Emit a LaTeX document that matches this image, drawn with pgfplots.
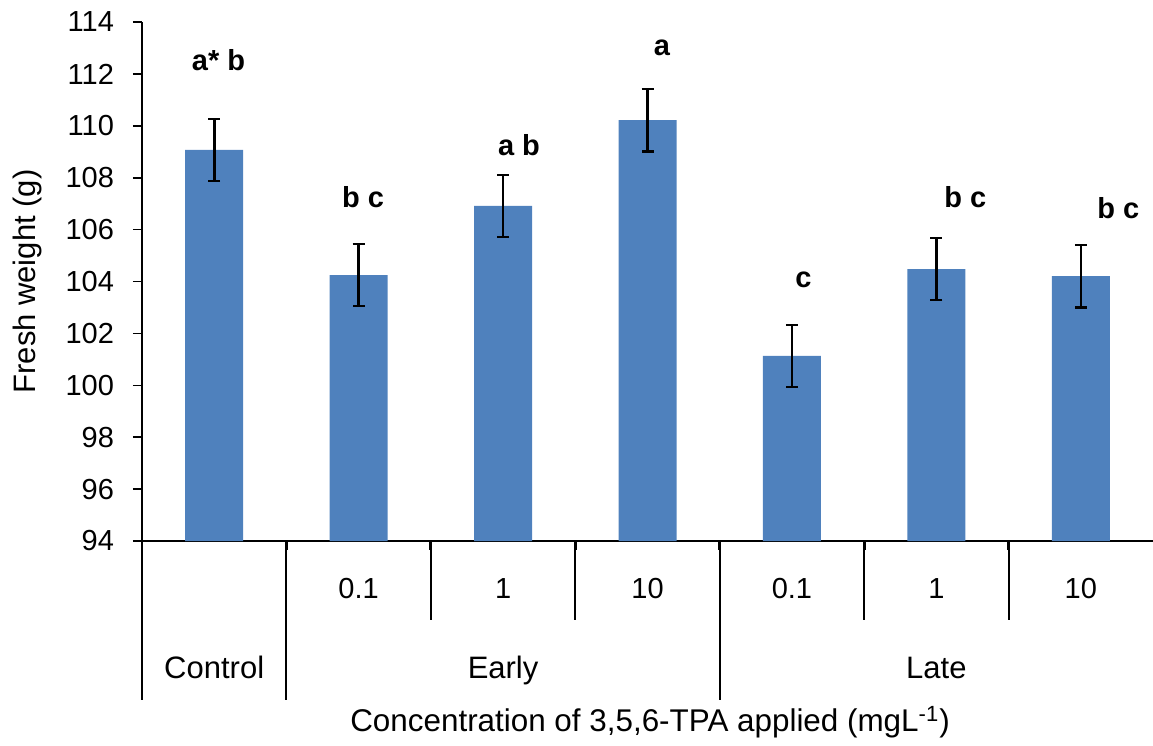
\documentclass[border=0pt]{standalone}
\usepackage{pgfplots}
\pgfplotsset{compat=1.18}
\usepackage{fontspec}
\setmainfont{Liberation Sans}
\definecolor{barblue}{HTML}{4F81BD}
\begin{document}
\begin{tikzpicture}
\begin{axis}[
  name=ax,
  scale only axis, width=505.5pt, height=259.5pt,
  xmin=-0.5, xmax=6.5, ymin=94, ymax=114,
  ytick={94,96,...,114},
  xtick={0,...,6},
  xticklabels={,0.1,1,10,0.1,1,10},
  axis x line*=bottom, axis y line*=left,
  axis line style={line width=1pt, black},
  major x tick style={draw=none},
  ytick align=outside, ytick pos=left,
  major tick length=4.5pt,
  major y tick style={line width=0.8pt, black},
  /pgf/number format/assume math mode=true,
  tick label style={font=\fontsize{14.5}{16}\selectfont},
  yticklabel style={anchor=east, xshift=-6pt},
  xticklabel style={anchor=base, yshift=-24pt},
  ylabel={Fresh weight (g)},
  ylabel style={at={(axis description cs:-0.1128,0.5)}, anchor=center, font=\fontsize{15.5}{18}\selectfont},
  xlabel={Concentration of 3,5,6-TPA applied (mgL\textsuperscript{-1})},
  xlabel style={at={(axis description cs:0.5025,-0.349)}, anchor=center, font=\fontsize{15.7}{18}\selectfont},
  clip=false,
  ybar, bar width=29pt,
]
\addplot[fill=barblue, draw=none,
  error bars/.cd, y dir=both, y explicit,
  error bar style={line width=1.3pt, black},
  error mark options={rotate=90, mark size=3pt, line width=1.3pt, black}]
  coordinates {
    (0,109.07) +- (0,1.2)
    (1,104.25) +- (0,1.2)
    (2,106.91) +- (0,1.2)
    (3,110.22) +- (0,1.2)
    (4,101.13) +- (0,1.2)
    (5,104.48) +- (0,1.2)
    (6,104.21) +- (0,1.2)
  };
% significance letters
\begin{scope}[every node/.style={font=\bfseries\fontsize{14.5}{16}\selectfont, anchor=center}]
\node at (axis cs:0.03,112.54) {a* b};
\node at (axis cs:1.03,107.26) {b c};
\node at (axis cs:2.11,109.26) {a b};
\node at (axis cs:3.10,113.0) {a};
\node at (axis cs:4.08,104.06) {c};
\node at (axis cs:5.20,107.26) {b c};
\node at (axis cs:6.26,106.83) {b c};
\end{scope}
% category separators
\draw[line width=1pt, black] (axis cs:-0.5,94) -- ++(0pt,-79.5pt);
\draw[line width=1pt, black] (axis cs:0.5,94) -- ++(0pt,-79.5pt);
\draw[line width=1pt, black] (axis cs:3.5,94) -- ++(0pt,-79.5pt);
\draw[line width=1pt, black] (axis cs:1.5,94) -- ++(0pt,-39.5pt);
\draw[line width=1pt, black] (axis cs:2.5,94) -- ++(0pt,-39.5pt);
\draw[line width=1pt, black] (axis cs:4.5,94) -- ++(0pt,-39.5pt);
\draw[line width=1pt, black] (axis cs:5.5,94) -- ++(0pt,-39.5pt);
% separator tick marks (slightly heavier at the axis)
\draw[line width=1.4pt, black] (axis cs:-0.5,94) -- ++(0pt,-4.5pt);
\draw[line width=1.4pt, black] (axis cs:0.5,94) -- ++(0pt,-4.5pt);
\draw[line width=1.4pt, black] (axis cs:1.5,94) -- ++(0pt,-4.5pt);
\draw[line width=1.4pt, black] (axis cs:2.5,94) -- ++(0pt,-4.5pt);
\draw[line width=1.4pt, black] (axis cs:3.5,94) -- ++(0pt,-4.5pt);
\draw[line width=1.4pt, black] (axis cs:4.5,94) -- ++(0pt,-4.5pt);
\draw[line width=1.4pt, black] (axis cs:5.5,94) -- ++(0pt,-4.5pt);
% group labels
\begin{scope}[every node/.style={font=\fontsize{15.5}{18}\selectfont, anchor=base}]
\node at ([yshift=-68.5pt]axis cs:0,94) {Control};
\node at ([yshift=-68.5pt]axis cs:2,94) {Early};
\node at ([yshift=-68.5pt]axis cs:5,94) {Late};
\end{scope}
\end{axis}
\pgfresetboundingbox
\path[use as bounding box] ([xshift=-71pt,yshift=-102pt]ax.south west) rectangle ([yshift=11pt]ax.north east);
\end{tikzpicture}
\end{document}
